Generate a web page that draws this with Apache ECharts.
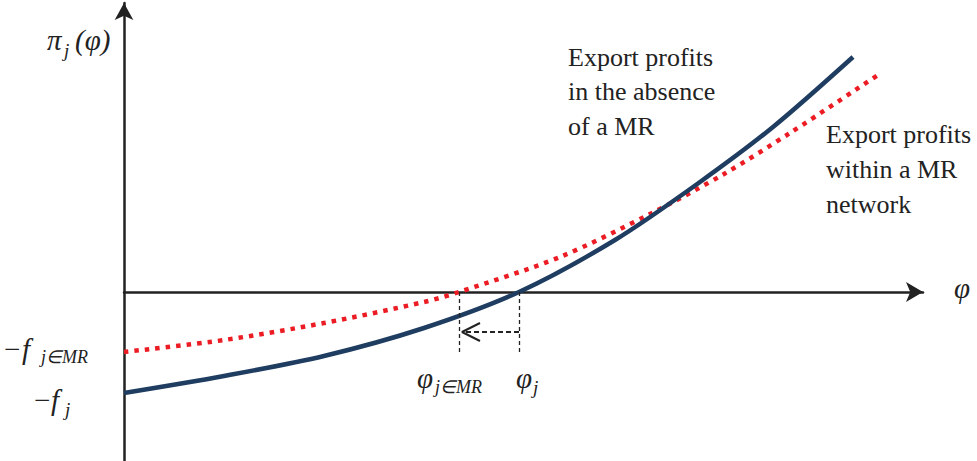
<!DOCTYPE html>
<html>
<head>
<meta charset="utf-8">
<script src="https://cdn.jsdelivr.net/npm/echarts@6/dist/echarts.min.js"></script>
<style>
html,body{margin:0;padding:0;background:#fff;}
#chart{width:977px;height:461px;}
</style>
</head>
<body>
<div id="chart"></div>
<script>
// ---- data (x: productivity φ, y: profit π) ----
var absenceX = [0, 100, 200, 300, 395, 491, 576, 649, 729];
var absenceY = [-101, -84, -64, -36, 0, 52, 110, 165, 235];
var networkX = [0, 100, 200, 300, 335, 436, 526, 600, 666, 754];
var networkY = [-60, -48, -31, -10, 0, 35, 78, 118, 159, 217];
var cutoffs = [335, 395];          // φ_{j∈MR}, φ_j
var labelAbsence = ['Export profits', 'in the absence', 'of a MR'];
var labelNetwork = ['Export profits', 'within a MR', 'network'];

function zip(xs, ys){ return xs.map(function(x,i){ return [x, ys[i]]; }); }

var chart = echarts.init(document.getElementById('chart'), null, {renderer:'svg'});
var ink = '#222';
var serif = 'Liberation Serif';
var dropY = -60, arrowY = -40;

function txt(x, y, s, size, italic){
  return {type:'text', x:x, y:y, silent:true,
    style:{text:s, fontFamily:serif, fontSize:size, fontStyle:italic?'italic':'normal', fill:ink,
      textAlign:'left', textVerticalAlign:'middle'}};
}
var graphics = [];
// axis labels (math)
graphics.push(txt(47, 40, 'π', 29, true));
graphics.push(txt(64, 50, 'j', 19, true));
graphics.push(txt(75, 40, '(φ)', 29, true));
graphics.push(txt(954, 288, 'φ', 29, true));
graphics.push(txt(4, 349, '−', 29, false));
graphics.push(txt(22, 349, 'f', 29, true));
graphics.push(txt(41, 357, 'j∈MR', 18, true));
graphics.push(txt(34, 400, '−', 29, false));
graphics.push(txt(51, 400, 'f', 29, true));
graphics.push(txt(65, 409, 'j', 19, true));
graphics.push(txt(417, 378, 'φ', 29, true));
graphics.push(txt(435, 387, 'j∈MR', 18, true));
graphics.push(txt(516, 378, 'φ', 29, true));
graphics.push(txt(533, 387, 'j', 19, true));
// curve descriptions
labelAbsence.forEach(function(s,i){ graphics.push(txt(568, 57 + i*34.5, s, 26, false)); });
labelNetwork.forEach(function(s,i){ graphics.push(txt(826, 134 + i*35, s, 26, false)); });

var option = {
  animation:false,
  backgroundColor:'#fff',
  grid:{left:124, right:54, top:3, bottom:0, containLabel:false},
  xAxis:{type:'value', min:0, max:799,
    axisLine:{show:true, onZero:true, symbol:['none','arrow'], symbolSize:[15,17],
      lineStyle:{color:ink, width:2.5}},
    axisTick:{show:false}, axisLabel:{show:false}, splitLine:{show:false}},
  yAxis:{type:'value', min:-169, max:289,
    axisLine:{show:true, onZero:true, symbol:['none','arrow'], symbolSize:[14,17],
      lineStyle:{color:ink, width:2.5}},
    axisTick:{show:false}, axisLabel:{show:false}, splitLine:{show:false}},
  series:[
    {type:'line', name:'within', data:zip(networkX, networkY), smooth:0.3, symbol:'none',
      lineStyle:{color:'#ec1c24', width:4.5, type:[4.5,6], cap:'butt'}, z:3},
    {type:'line', name:'absence', data:zip(absenceX, absenceY), smooth:0.3, symbol:'none',
      lineStyle:{color:'#1f3d60', width:4.5}, z:4,
      markLine:{silent:true, symbol:'none', label:{show:false},
        lineStyle:{color:ink, width:1.3, type:[4,3]},
        data:[
          [{coord:[cutoffs[0], 0]}, {coord:[cutoffs[0], dropY]}],
          [{coord:[cutoffs[1], 0]}, {coord:[cutoffs[1], dropY]}],
          [{coord:[cutoffs[1], arrowY], lineStyle:{width:2, type:[5,3]}}, {coord:[cutoffs[0] + 3, arrowY]}]
        ]}},
    {type:'line', name:'arrowhead', symbol:'none', smooth:false,
      data:[[cutoffs[0] + 21, arrowY + 9], [cutoffs[0] + 3, arrowY], [cutoffs[0] + 21, arrowY - 9]],
      lineStyle:{color:ink, width:2}, z:5}
  ],
  graphic:graphics
};
chart.setOption(option);
</script>
</body>
</html>
